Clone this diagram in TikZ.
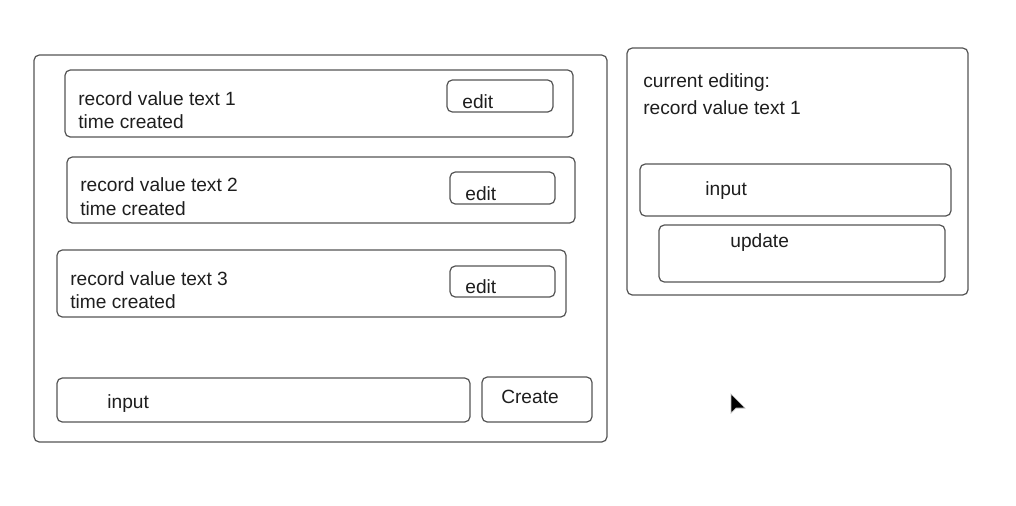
\documentclass[tikz,border=0pt]{standalone}
\usepackage{fontspec}
\setmainfont{Liberation Sans}
\usepackage{tikz}
\usetikzlibrary{calc}
\definecolor{edge}{HTML}{555555}
\definecolor{ink}{HTML}{1E1E1E}
\tikzset{
    panel/.style={draw=edge, line width=0.7pt, rounded corners=3pt},
    field/.style={draw=edge, line width=0.7pt, rounded corners=3pt},
    txt/.style={anchor=base west, inner sep=0pt, text=ink, font=\fontsize{10.9}{13}\selectfont},
}
\begin{document}
\begin{tikzpicture}[x=0.02cm, y=-0.02cm]
        \useasboundingbox (0,0) rectangle (1016,505);

        % list panel
        \draw[panel] (34,55) rectangle (607,442);

        \draw[field] (65,70) rectangle (573,137);
        \node[txt] (rec1) at (78,105) {record value text 1};
        \node[txt] (time1) at (78,128) {time created};
        \draw[field] (447,80) rectangle (553,112);
        \node[txt] (edit1) at (462,108) {edit};

        \draw[field] (67,157) rectangle (575,223);
        \node[txt] (rec2) at (80,191) {record value text 2};
        \node[txt] (time2) at (80,215) {time created};
        \draw[field] (450,172) rectangle (555,204);
        \node[txt] (edit2) at (465,200) {edit};

        \draw[field] (57,250) rectangle (566,317);
        \node[txt] (rec3) at (70,285) {record value text 3};
        \node[txt] (time3) at (70,308) {time created};
        \draw[field] (450,266) rectangle (555,297);
        \node[txt] (edit3) at (465,293) {edit};

        \draw[field] (57,378) rectangle (470,422);
        \node[txt] (input) at (107,408) {input};
        \draw[field] (482,377) rectangle (592,422);
        \node[txt, anchor=base] (create) at (530,403) {Create};

        % edit panel
        \draw[panel] (627,48) rectangle (968,295);
        \node[txt] (current) at (643,87) {current editing:};
        \node[txt] (currec) at (643,114) {record value text 1};
        \draw[field] (640,164) rectangle (951,216);
        \node[txt] (editinput) at (705,195) {input};
        \draw[field] (659,225) rectangle (945,282);
        \node[txt] (update) at (730,247) {update};

        % pointer
        \draw[fill=black, draw=black!25, line width=0.4pt] (731,394) -- (731,413) -- (736,408) -- (745,408) -- cycle;
\end{tikzpicture}
\end{document}
